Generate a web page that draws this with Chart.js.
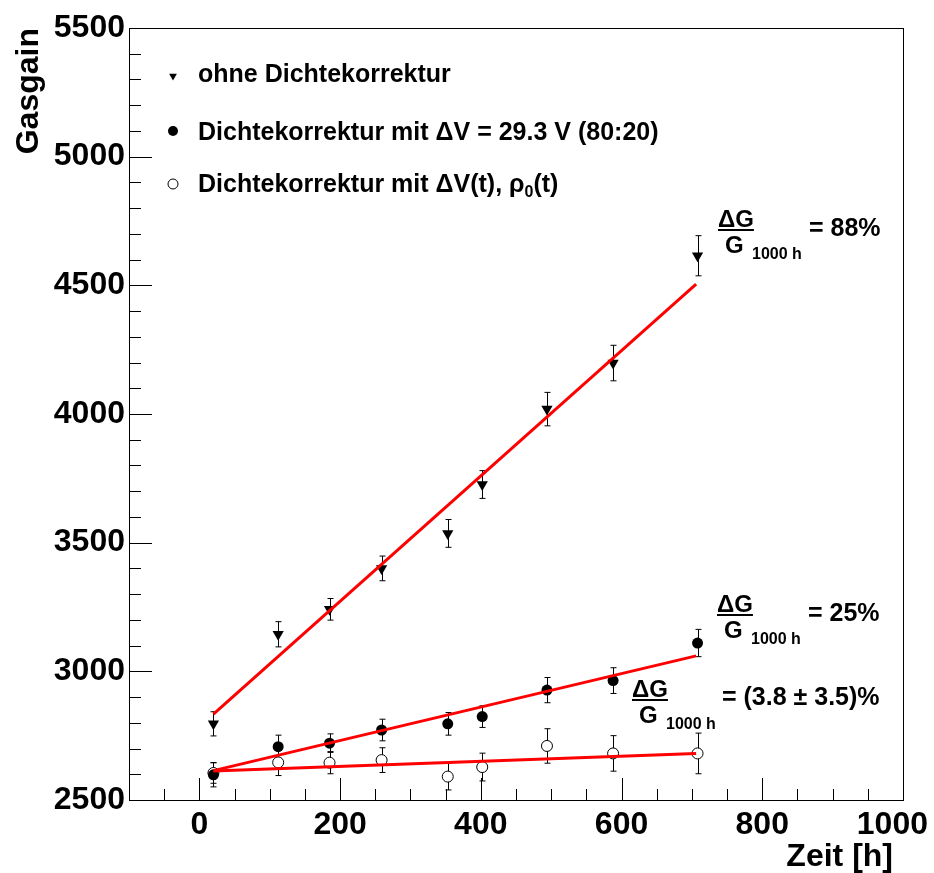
<!DOCTYPE html>
<html>
<head>
<meta charset="utf-8">
<script src="https://cdn.jsdelivr.net/npm/chart.js@4"></script>
<style>
  html, body { margin: 0; padding: 0; background: #fff; }
</style>
</head>
<body>
<canvas id="gainChart" width="934" height="873"></canvas>
<script>
// measurement times [h]
const hours = [20, 112, 185, 259, 353, 402, 494, 588, 708];

// gas gain without density correction
const gainRaw    = [2796, 3144, 3241, 3400, 3536, 3726, 4019, 4198, 4615];
const gainRawErr = [47, 49, 42, 48, 54, 54, 65, 69, 78];

// density correction with fixed dV = 29.3 V
const gainFixed    = [2598, 2707, 2721, 2772, 2796, 2824, 2927, 2964, 3110];
const gainFixedErr = [47, 45, 36, 42, 44, 42, 49, 50, 53];

// density correction with dV(t), rho0(t)
const gainVar    = [2605, 2646, 2645, 2655, 2591, 2628, 2710, 2681, 2681];
const gainVarErr = [40, 51, 43, 48, 52, 54, 67, 69, 79];

// straight line fits
const fitHours = [20, 706];
const fitRaw   = [2834, 4505];
const fitFixed = [2614, 3060];
const fitVar   = [2613, 2681];

const xLabels = [0, 200, 400, 600, 800, 1000];
const yLabels = [2500, 3000, 3500, 4000, 4500, 5000, 5500];

const FONT = "'Liberation Sans', Arial, Helvetica, sans-serif";

function pts(xs, ys) {
  return xs.map((x, i) => ({ x: x, y: ys[i] }));
}

function text(ctx, str, x, y, size, align, weight) {
  ctx.font = (weight || 'bold') + ' ' + size + 'px ' + FONT;
  ctx.textAlign = align || 'left';
  ctx.textBaseline = 'alphabetic';
  ctx.fillText(str, x, y);
  return ctx.measureText(str).width;
}

// dG/G_1000h fraction with its value
function fraction(ctx, x, y, value) {
  ctx.fillStyle = '#000';
  const w = text(ctx, '\u0394G', x, y, 24);
  ctx.fillRect(x, y + 2, w, 2);
  text(ctx, 'G', x + 7, y + 26, 24);
  text(ctx, '1000 h', x + 34, y + 32, 16);
  if (value) text(ctx, value, x + 91, y + 9, 25);
}

const errors = [
  { ys: gainRaw, err: gainRawErr },
  { ys: gainFixed, err: gainFixedErr },
  { ys: gainVar, err: gainVarErr }
];

const decor = {
  id: 'decor',
  beforeDatasetsDraw(chart) {
    const ctx = chart.ctx, sx = chart.scales.x, sy = chart.scales.y;
    ctx.save();
    ctx.strokeStyle = '#000';
    ctx.lineWidth = 1;
    errors.forEach(s => {
      hours.forEach((h, i) => {
        const px = Math.round(sx.getPixelForValue(h)) + 0.5;
        const top = sy.getPixelForValue(s.ys[i] + s.err[i]);
        const bot = sy.getPixelForValue(s.ys[i] - s.err[i]);
        ctx.beginPath();
        ctx.moveTo(px, top); ctx.lineTo(px, bot);
        ctx.moveTo(px - 3, top); ctx.lineTo(px + 3, top);
        ctx.moveTo(px - 3, bot); ctx.lineTo(px + 3, bot);
        ctx.stroke();
      });
    });
    ctx.restore();
  },
  afterDatasetsDraw(chart) {
    const ctx = chart.ctx, a = chart.chartArea;
    const sx = chart.scales.x, sy = chart.scales.y;
    ctx.save();
    ctx.strokeStyle = '#000';
    ctx.lineWidth = 1;
    ctx.strokeRect(Math.round(a.left) + 0.5, Math.round(a.top) + 0.5,
                   Math.round(a.right - a.left), Math.round(a.bottom - a.top));

    // tick marks pointing into the frame
    ctx.beginPath();
    for (let v = 2500; v <= 5500; v += 100) {
      const py = Math.round(sy.getPixelForValue(v)) + 0.5;
      const len = v % 500 === 0 ? 23 : 12;
      ctx.moveTo(a.left, py); ctx.lineTo(a.left + len, py);
    }
    for (let v = -100; v <= 1000; v += 50) {
      const px = Math.round(sx.getPixelForValue(v)) + 0.5;
      const len = v % 200 === 0 ? 22 : 11;
      ctx.moveTo(px, a.bottom); ctx.lineTo(px, a.bottom - len);
    }
    ctx.stroke();

    // x tick labels, kept inside the canvas on the right
    ctx.fillStyle = '#000';
    ctx.font = 'bold 32px ' + FONT;
    xLabels.forEach(v => {
      const s = String(v);
      const w = ctx.measureText(s).width;
      const px = Math.min(sx.getPixelForValue(v), chart.width - 6 - w / 2);
      text(ctx, s, px, a.bottom + 34, 32, 'center');
    });

    // legend
    const H = Chart.helpers;
    ctx.fillStyle = '#000';
    ctx.strokeStyle = '#000';
    H.drawPoint(ctx, { pointStyle: 'triangle', radius: 4.5, rotation: 180, borderWidth: 0 }, 173, 76);
    H.drawPoint(ctx, { pointStyle: 'circle', radius: 5, borderWidth: 0 }, 173, 131);
    ctx.fillStyle = '#fff';
    ctx.lineWidth = 1;
    H.drawPoint(ctx, { pointStyle: 'circle', radius: 5, borderWidth: 1 }, 173, 184);
    ctx.fillStyle = '#000';
    text(ctx, 'ohne Dichtekorrektur', 198, 82, 25);
    text(ctx, 'Dichtekorrektur mit \u0394V = 29.3 V (80:20)', 198, 140, 25);
    let x = 198;
    x += text(ctx, 'Dichtekorrektur mit \u0394V(t), \u03C1', x, 192, 25);
    x += text(ctx, '0', x, 197, 16);
    text(ctx, '(t)', x, 192, 25);

    // fit results
    fraction(ctx, 718, 227, '= 88%');
    fraction(ctx, 717, 612, '= 25%');
    fraction(ctx, 632, 697, '');
    text(ctx, '= (3.8 \u00B1 3.5)%', 722, 705, 25);

    // axis titles
    text(ctx, 'Zeit [h]', 893, 866, 32, 'right');
    ctx.translate(38, 28);
    ctx.rotate(-Math.PI / 2);
    text(ctx, 'Gasgain', 0, 0, 32, 'right');
    ctx.restore();
  }
};

const plain = v => String(v);

new Chart(document.getElementById('gainChart'), {
  type: 'scatter',
  data: {
    datasets: [
      { label: 'ohne Dichtekorrektur', data: pts(hours, gainRaw),
        pointStyle: 'triangle', rotation: 180, pointRadius: 6.5,
        backgroundColor: '#000', borderColor: '#000', borderWidth: 0, order: 2 },
      { label: 'Dichtekorrektur mit \u0394V = 29.3 V (80:20)', data: pts(hours, gainFixed),
        pointStyle: 'circle', pointRadius: 5.5,
        backgroundColor: '#000', borderColor: '#000', borderWidth: 0, order: 2 },
      { label: 'Dichtekorrektur mit \u0394V(t), \u03C1\u2080(t)', data: pts(hours, gainVar),
        pointStyle: 'circle', pointRadius: 5.5,
        backgroundColor: '#fff', borderColor: '#000', borderWidth: 1, order: 3 },
      { type: 'line', data: pts(fitHours, fitRaw), borderColor: '#ff0000',
        borderWidth: 3, pointRadius: 0, order: 0 },
      { type: 'line', data: pts(fitHours, fitFixed), borderColor: '#ff0000',
        borderWidth: 3, pointRadius: 0, order: 0 },
      { type: 'line', data: pts(fitHours, fitVar), borderColor: '#ff0000',
        borderWidth: 3, pointRadius: 0, order: 0 }
    ]
  },
  options: {
    responsive: false,
    animation: false,
    devicePixelRatio: 1,
    layout: { autoPadding: false, padding: { left: 0, right: 31, top: 28, bottom: 0 } },
    plugins: { legend: { display: false }, tooltip: { enabled: false } },
    scales: {
      x: {
        type: 'linear', min: -100, max: 1000,
        grid: { display: false, drawTicks: false },
        border: { display: false },
        afterBuildTicks: s => { s.ticks = xLabels.map(v => ({ value: v })); },
        afterFit: s => { s.height = 73; s.paddingLeft = 0; s.paddingRight = 0; },
        ticks: { display: false }
      },
      y: {
        type: 'linear', min: 2500, max: 5500,
        grid: { display: false, drawTicks: false },
        border: { display: false },
        afterBuildTicks: s => { s.ticks = yLabels.map(v => ({ value: v })); },
        afterFit: s => { s.width = 129; s.paddingTop = 0; s.paddingBottom = 0; },
        ticks: { color: '#000', padding: 4, callback: plain,
                 font: { family: FONT, weight: 'bold', size: 32 } }
      }
    }
  },
  plugins: [decor]
});
</script>
</body>
</html>
